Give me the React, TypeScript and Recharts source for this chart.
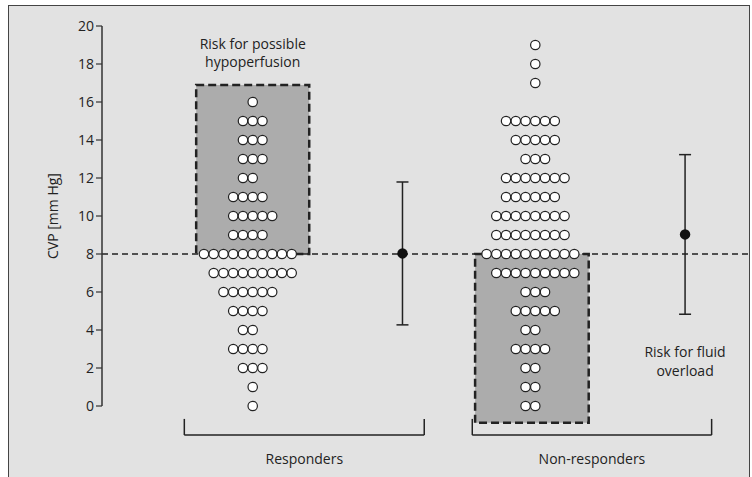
import { ScatterChart, Scatter, XAxis, YAxis, ReferenceArea, ReferenceLine, ReferenceDot, ErrorBar } from 'recharts';

// CVP level (mm Hg) for each row of dots
const cvpLevels = [0, 1, 2, 3, 4, 5, 6, 7, 8, 9, 10, 11, 12, 13, 14, 15, 16, 17, 18, 19];
// number of patients at each CVP level
const responderCounts = [1, 1, 3, 4, 2, 4, 6, 9, 10, 4, 5, 4, 2, 3, 3, 3, 1, 0, 0, 0];
const nonResponderCounts = [2, 2, 2, 4, 2, 5, 3, 9, 10, 8, 8, 6, 7, 3, 5, 6, 0, 1, 1, 1];

const groups = ['Responders', 'Non-responders'];
const groupMeans = [8.03, 9.03];
const groupSDs = [3.76, 4.2];
const threshold = 8;
const yTicks = [0, 2, 4, 6, 8, 10, 12, 14, 16, 18, 20];

// layout on the x scale (group 1 at x=1, group 2 at x=2)
const groupX = [1, 2];
const dotStep = 0.0345;
const statsOffset = 0.53;

const ink = '#222';

const buildDots = (counts: number[], gx: number) => {
    const pts: { x: number; y: number }[] = [];
    counts.forEach((n, i) => {
        const start = -Math.floor(n / 2);
        for (let k = 0; k < n; k++) {
            pts.push({ x: gx + (start + k) * dotStep, y: cvpLevels[i] });
        }
    });
    return pts;
};

const responderDots = buildDots(responderCounts, groupX[0]);
const nonResponderDots = buildDots(nonResponderCounts, groupX[1]);

const meanData = groups.map((g, i) => ({
    x: groupX[i] + statsOffset,
    y: groupMeans[i],
    sd: groupSDs[i],
}));

const OpenDot = (props: any) => (
    <circle cx={props.cx} cy={props.cy} r={4.7} fill="#fff" stroke={ink} strokeWidth={1.2} />
);

const MeanDot = (props: any) => (
    <circle cx={props.cx} cy={props.cy} r={5.2} fill="#111" />
);

// group brackets below the axis
const brackets = [
    { x1: 0.758, x2: 1.607 },
    { x1: 1.777, x2: 2.624 },
];
const bracketY = -1.53;
const bracketTickY = -0.68;

const boxStyle = { fill: '#acacac', fillOpacity: 1, stroke: ink, strokeWidth: 2.5, strokeDasharray: '8 4' };

const TextAt = ({ x, y, text }: { x: number; y: number; text: string }) => (
    <ReferenceDot
        x={x}
        y={y}
        r={0}
        fill="none"
        stroke="none"
        ifOverflow="visible"
        label={{ value: text, position: 'center', fill: ink, fontSize: 14 }}
    />
);

export default function App() {
    return (
        <div style={{ position: 'absolute', left: 0, top: 0, width: 752, height: 477, overflow: 'hidden', background: '#fff', fontFamily: '"Open Sans", sans-serif' }}>
            <div style={{ position: 'absolute', left: 8, top: 5, width: 742, height: 500, boxSizing: 'border-box', border: '1.5px solid #444', background: '#e2e2e2' }} />
            <div style={{ position: 'absolute', left: 0, top: 0 }}>
                <ScatterChart width={752} height={477} margin={{ top: 26, right: 4, bottom: 71, left: 48 }}>
                    <XAxis type="number" dataKey="x" domain={[0.4667, 2.7527]} allowDataOverflow hide />
                    <YAxis
                        type="number"
                        dataKey="y"
                        domain={[0, 20]}
                        ticks={yTicks}
                        interval={0}
                        width={54}
                        axisLine={{ stroke: '#333', strokeWidth: 1.5 }}
                        tickLine={{ stroke: '#333', strokeWidth: 1.2 }}
                        tick={{ fill: ink, fontSize: 14 }}
                        label={{ value: 'CVP [mm Hg]', angle: -90, position: 'insideLeft', fill: ink, fontSize: 14, style: { textAnchor: 'middle' } }}
                    />
                    <ReferenceArea x1={0.8} x2={1.2} y1={threshold} y2={16.9} ifOverflow="visible" {...boxStyle} />
                    <ReferenceArea x1={1.787} x2={2.189} y1={-0.88} y2={threshold} ifOverflow="visible" {...boxStyle} />
                    <ReferenceLine y={threshold} stroke={ink} strokeWidth={1.3} strokeDasharray="6 4" />
                    <Scatter name={groups[0]} data={responderDots} shape={OpenDot} isAnimationActive={false} />
                    <Scatter name={groups[1]} data={nonResponderDots} shape={OpenDot} isAnimationActive={false} />
                    <Scatter data={meanData} shape={MeanDot} isAnimationActive={false}>
                        <ErrorBar dataKey="sd" direction="y" width={6} stroke={ink} strokeWidth={1.5} />
                    </Scatter>
                    {brackets.map((b, i) => (
                        <ReferenceLine key={`h${i}`} segment={[{ x: b.x1, y: bracketY }, { x: b.x2, y: bracketY }]} ifOverflow="visible" stroke={ink} strokeWidth={1.5} />
                    ))}
                    {brackets.flatMap((b, i) => [b.x1, b.x2].map((bx, j) => (
                        <ReferenceLine key={`v${i}${j}`} segment={[{ x: bx, y: bracketY }, { x: bx, y: bracketTickY }]} ifOverflow="visible" stroke={ink} strokeWidth={1.5} />
                    )))}
                    {brackets.map((b, i) => TextAt({ x: (b.x1 + b.x2) / 2, y: -2.79, text: groups[i] }))}
                    {TextAt({ x: groupX[0], y: 19.05, text: 'Risk for possible' })}
                    {TextAt({ x: groupX[0], y: 18.08, text: 'hypoperfusion' })}
                    {TextAt({ x: groupX[1] + statsOffset, y: 2.86, text: 'Risk for fluid' })}
                    {TextAt({ x: groupX[1] + statsOffset, y: 1.86, text: 'overload' })}
                </ScatterChart>
            </div>
        </div>
    );
}
